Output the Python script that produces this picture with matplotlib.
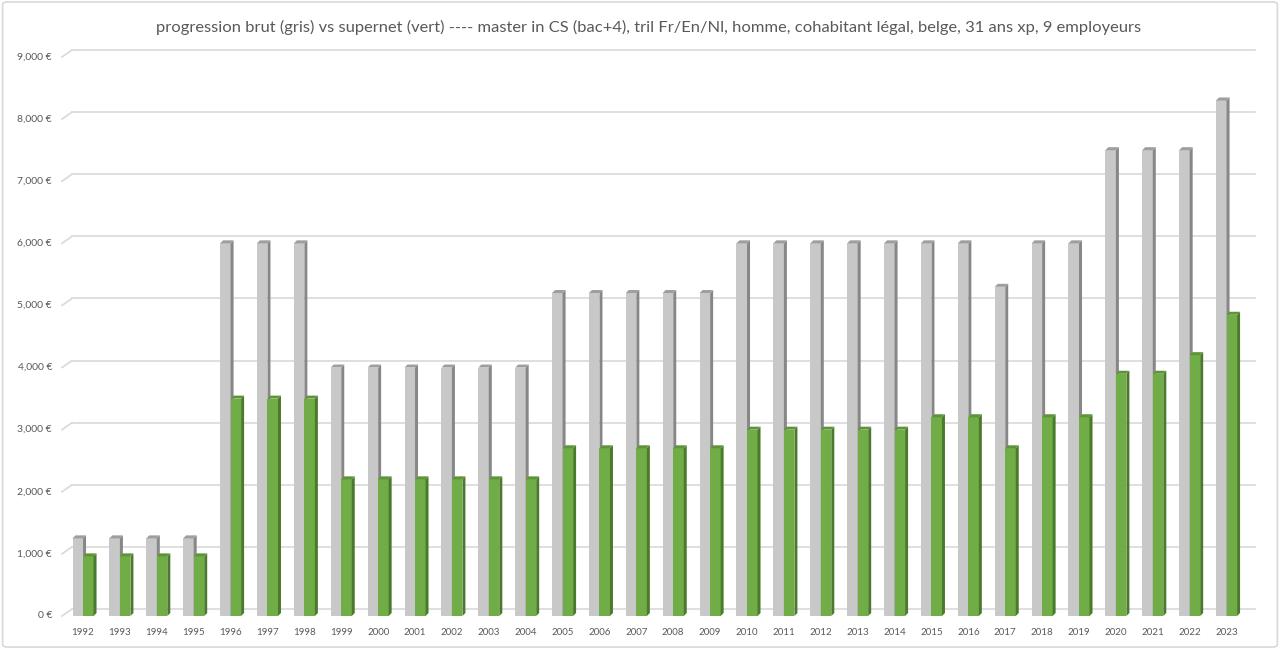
import matplotlib.pyplot as plt
import numpy as np
from matplotlib.patches import Polygon, FancyBboxPatch
from matplotlib.transforms import offset_copy

# data
years = list(range(1992, 2024))
brut = [1250, 1250, 1250, 1250, 6000, 6000, 6000, 4000, 4000, 4000, 4000, 4000, 4000,
        5200, 5200, 5200, 5200, 5200, 6000, 6000, 6000, 6000, 6000, 6000, 6000, 5300,
        6000, 6000, 7500, 7500, 7500, 8300]
supernet = [960, 960, 960, 960, 3500, 3500, 3500, 2200, 2200, 2200, 2200, 2200, 2200,
            2700, 2700, 2700, 2700, 2700, 3000, 3000, 3000, 3000, 3000, 3200, 3200, 2700,
            3200, 3200, 3900, 3900, 4200, 4850]
yticks = list(range(0, 10000, 1000))
title = ("progression brut (gris) vs supernet (vert) ---- master in CS (bac+4), tril Fr/En/Nl, "
         "homme, cohabitant légal, belge, 31 ans xp, 9 employeurs")

W, H = 1280, 649
fig = plt.figure(figsize=(W / 100, H / 100), dpi=100)
plt.rcParams['font.family'] = ['Lato', 'DejaVu Sans']

# rounded border of the chart area
fig.patches.append(FancyBboxPatch((0.002, 0.003), 0.996, 0.994, boxstyle="round,pad=0,rounding_size=0.004",
                                  transform=fig.transFigure, fc='white', ec='#D9D9D9', lw=1.2, zorder=-10))

ax_l, ax_r, ax_b, ax_t = 62, 1245, 616, 57
ax = fig.add_axes([ax_l / W, (H - ax_b) / H, (ax_r - ax_l) / W, (ax_b - ax_t) / H])
ax.set_xlim(-0.57, 31.5)
ax.set_ylim(0, 9000)
ax.axis('off')
ax.patch.set_alpha(0)

x = np.arange(len(years))
px_x = (ax_r - ax_l) / (31.5 + 0.57)
px_y = (ax_b - ax_t) / 9000
bw = 0.285
ddx, ddy = 3 / px_x, 3 / px_y  # bar depth in data units

# back wall gridlines (offset right/up) plus diagonal stubs
wall_dx, wall_dy = 10, 7
wall = offset_copy(ax.transData, fig=fig, x=wall_dx, y=wall_dy, units='dots')
for t in yticks:
    ax.plot([-0.57, 31.5], [t, t], color='#D9D9D9', lw=1.2,
            transform=wall, clip_on=False, zorder=0)
    ax.plot([-0.57, -0.57 + wall_dx / px_x], [t, t + wall_dy / px_y], color='#D9D9D9', lw=1.2,
            clip_on=False, zorder=0)
    ax.text(-0.57 - 10 / px_x, t, f"{t:,} €", ha='right', va='center', fontsize=7.5, color='#595959')

for i, y in enumerate(years):
    ax.text(i, -190, str(y), ha='center', va='top', fontsize=7, color='#595959')


def bar3d(xs, hs, x_off, front, side, top, z):
    ax.bar(xs + x_off, hs, width=bw, align='edge', color=front, zorder=z, clip_on=False)
    for xi, h in zip(xs, hs):
        x0, x1 = xi + x_off, xi + x_off + bw
        ax.add_patch(Polygon([(x1, 0), (x1 + ddx, ddy), (x1 + ddx, h + ddy), (x1, h)],
                             closed=True, fc=side, ec='none', zorder=z, clip_on=False))
        ax.add_patch(Polygon([(x0, h), (x0 + ddx, h + ddy), (x1 + ddx, h + ddy), (x1, h)],
                             closed=True, fc=top, ec='none', zorder=z, clip_on=False))


bar3d(x, np.array(brut), -bw, '#C8C8C8', '#878787', '#9E9E9E', 2)
bar3d(x, np.array(supernet), 0, '#70AD47', '#4B7A2C', '#5E9438', 3)

fig.text(649 / W, 1 - 27 / H, title, ha='center', va='center', fontsize=11.85, color='#595959')

fig.savefig('out.png', dpi=100)
